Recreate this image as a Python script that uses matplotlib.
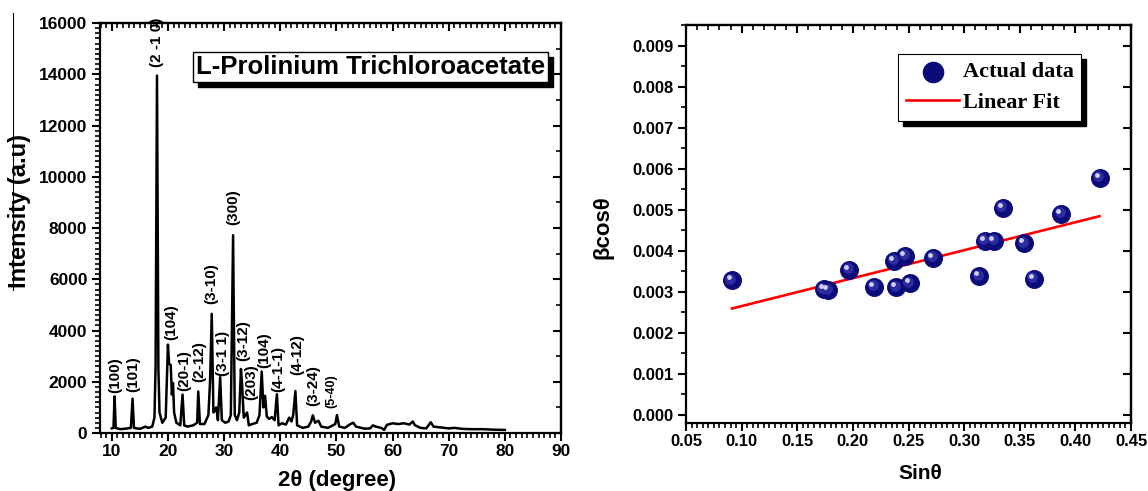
import matplotlib
matplotlib.use("Agg")
import matplotlib.pyplot as plt
from matplotlib.ticker import MultipleLocator
from matplotlib.transforms import offset_copy, IdentityTransform
from matplotlib.patches import Rectangle
from matplotlib.lines import Line2D

plt.rcParams['font.family'] = ['Liberation Sans', 'DejaVu Sans']
plt.rcParams['font.weight'] = 'bold'

# --- XRD pattern ---
two_theta = [10.0, 10.3, 10.5, 10.7, 11.5, 12.5, 13.4, 13.7, 13.95, 15.0, 16.0, 16.5,
             17.2, 17.6, 17.8, 18.05, 18.3, 18.5, 19.0, 19.6, 20.0, 20.2, 20.5, 20.7,
             20.9, 21.1, 21.5, 22.2, 22.6, 22.9, 23.5, 24.5, 25.2, 25.4, 25.7, 26.5,
             27.2, 27.5, 27.8, 28.1, 28.4, 28.6, 28.9, 29.3, 29.6, 30.2, 30.8, 31.2,
             31.6, 31.9, 32.3, 32.7, 33.0, 33.2, 33.5, 34.1, 34.4, 35.0, 35.8, 36.3,
             36.7, 37.0, 37.3, 37.6, 38.0, 38.5, 39.0, 39.4, 39.7, 40.3, 41.0, 41.6,
             42.0, 42.3, 42.7, 43.0, 44.0, 45.0, 45.5, 45.8, 46.2, 46.8, 47.3, 48.5,
             49.2, 49.8, 50.1, 50.5, 51.5, 52.5, 53.0, 53.5, 55.0, 56.0, 56.5, 57.0,
             58.0, 58.5, 59.0, 60.0, 61.0, 62.0, 63.0, 63.6, 64.0, 65.0, 66.0, 66.8,
             67.3, 68.5, 70.0, 71.0, 72.5, 74.0, 76.0, 78.0, 80.0]
intensity = [180, 200, 1430, 200, 150, 170, 200, 1340, 200, 160, 250, 200,
             250, 600, 2600, 13950, 2500, 800, 400, 600, 3450, 2700, 2650, 1500,
             1950, 800, 400, 300, 1500, 300, 250, 300, 400, 1620, 350, 350,
             700, 2000, 4650, 800, 900, 1000, 500, 2180, 500, 400, 450, 700,
             7720, 700, 500, 800, 2500, 1900, 600, 800, 300, 350, 400, 700,
             2400, 1000, 1450, 650, 550, 620, 500, 1510, 300, 380, 330, 600,
             450, 700, 1640, 300, 200, 250, 450, 690, 400, 480, 250, 200,
             280, 350, 700, 250, 200, 350, 400, 250, 170, 180, 300, 250,
             200, 120, 320, 380, 350, 380, 330, 450, 300, 200, 180, 420,
             250, 220, 180, 200, 160, 150, 150, 130, 120]

hkl_labels = ['(100)', '(101)', '(2 -1 0)', '(104)', '(20-1)', '(2-12)', '(3-10)',
              '(3-1 1)', '(300)', '(3-12)', '(203)', '(104)', '(4-1-1)', '(4-12)',
              '(3-24)', '(5-40)']
hkl_x = [10.66, 13.8, 18.1, 20.6, 22.9, 25.6, 27.8, 29.8, 31.6, 33.5, 34.9, 37.2,
         39.7, 42.96, 45.8, 49.1]
hkl_y = [2250, 2290, 15260, 4330, 2420, 2770, 5830, 3120, 8820, 3590, 1990, 3250,
         2510, 3070, 1860, 1640]

# --- Williamson-Hall data (right panel) ---
sin_theta = [0.0913, 0.174, 0.178, 0.1965, 0.219, 0.237, 0.247, 0.239, 0.251,
             0.272, 0.3136, 0.3185, 0.327, 0.3348, 0.354, 0.3624, 0.3875, 0.4217]
beta_cos = [0.00328, 0.00306, 0.00304, 0.00354, 0.00312, 0.00375, 0.00387, 0.00311,
            0.00320, 0.00383, 0.00338, 0.00424, 0.00424, 0.00504, 0.00418, 0.00332,
            0.00490, 0.00578]
fit_x = [0.0913, 0.4217]
fit_y = [0.00259, 0.00484]

fig = plt.figure(figsize=(11.48, 4.91), dpi=100)


def style_axes(ax, xmaj, xmin, ymaj, ymin, top_min, right_min, size):
    for s in ax.spines.values():
        s.set_linewidth(1.6)
    ax.xaxis.set_major_locator(MultipleLocator(xmaj))
    ax.xaxis.set_minor_locator(MultipleLocator(xmin))
    ax.yaxis.set_major_locator(MultipleLocator(ymaj))
    ax.yaxis.set_minor_locator(MultipleLocator(ymin))
    ax.tick_params(which='major', direction='out', length=6, width=1.5, labelsize=size)
    ax.tick_params(which='minor', direction='out', length=3.5, width=1.2)
    ax.tick_params(axis='x', pad=2)
    ax.tick_params(axis='y', pad=3)
    sx = ax.secondary_xaxis('top')
    sx.xaxis.set_major_locator(MultipleLocator(xmaj))
    sx.xaxis.set_minor_locator(MultipleLocator(top_min))
    sx.tick_params(which='major', direction='in', length=6, width=1.5, labeltop=False)
    sx.tick_params(which='minor', direction='in', length=3.5, width=1.2)
    sx.spines['top'].set_linewidth(1.6)
    sy = ax.secondary_yaxis('right')
    sy.yaxis.set_major_locator(MultipleLocator(ymaj))
    sy.yaxis.set_minor_locator(MultipleLocator(right_min))
    sy.tick_params(which='major', direction='in', length=6, width=1.5, labelright=False)
    sy.tick_params(which='minor', direction='in', length=3.5, width=1.2)
    sy.spines['right'].set_linewidth(1.6)
    for lab in ax.get_xticklabels() + ax.get_yticklabels():
        lab.set_fontweight('bold')


# ---------------- left panel ----------------
ax1 = fig.add_axes([0.0871, 0.1181, 0.4016, 0.835])
ax1.plot(two_theta, intensity, color='black', lw=1.8)
ax1.set_xlim(7.9, 90)
ax1.set_ylim(0, 16000)
style_axes(ax1, 10, 1, 2000, 200, 1, 1000, 12.5)

for lab, x, y in zip(hkl_labels, hkl_x, hkl_y):
    fs = 9 if lab == '(5-40)' else 11
    ax1.text(x, y, lab, rotation=90, ha='center', va='center', fontsize=fs,
             fontweight='bold', clip_on=False, zorder=4)

ax1.set_xlabel('2θ (degree)', fontsize=16, fontweight='bold')
ax1.xaxis.set_label_coords(0.514, -0.115)
ax1.xaxis.label.set_va('center')
ax1.set_ylabel('Intensity (a.u)', fontsize=17, fontweight='bold')
ax1.yaxis.set_label_coords(-0.174, 0.541)
ax1.yaxis.label.set_va('center')

title = ax1.text(0.586, 0.893, 'L-Prolinium Trichloroacetate', transform=ax1.transAxes,
                 ha='center', va='center', fontsize=18.5, fontweight='bold', zorder=6,
                 bbox=dict(boxstyle='square,pad=0.12', fc='white', ec='black', lw=1.0))

# ---------------- right panel ----------------
ax2 = fig.add_axes([0.5976, 0.1385, 0.3876, 0.8106])
ax2.set_xlim(0.05, 0.45)
ax2.set_ylim(-0.0002, 0.0095)
style_axes(ax2, 0.05, 0.005, 0.001, 0.0005, 0.01, 0.001, 12)
ax2.yaxis.set_major_formatter(plt.FormatStrFormatter('%.3f'))
ax2.xaxis.set_major_formatter(plt.FormatStrFormatter('%.2f'))

ax2.plot(fit_x, fit_y, color='red', lw=1.9, zorder=2, label='Linear Fit')
ax2.scatter(sin_theta, beta_cos, s=160, color='#0b0b7a', zorder=3, label='Actual data')
mid = offset_copy(ax2.transData, fig=fig, x=-1.5, y=1.5, units='dots')
ax2.scatter(sin_theta, beta_cos, s=60, color='#2c2ca0', transform=mid, zorder=3.1, lw=0)
hi = offset_copy(ax2.transData, fig=fig, x=-3.0, y=3.0, units='dots')
ax2.scatter(sin_theta, beta_cos, s=12, color='#d0d0f2', transform=hi, zorder=3.2, lw=0)

ax2.set_xlabel('Sinθ', fontsize=15, fontweight='bold')
ax2.xaxis.set_label_coords(0.526, -0.128)
ax2.xaxis.label.set_va('center')
ax2.set_ylabel('βcosθ', fontsize=16, fontweight='bold')
ax2.yaxis.set_label_coords(-0.187, 0.492)
ax2.yaxis.label.set_va('center')

handles, labels = ax2.get_legend_handles_labels()
leg = ax2.legend(handles[::-1], labels[::-1], loc='upper right',
                 bbox_to_anchor=(0.888, 0.927), borderaxespad=0, fancybox=False,
                 edgecolor='black', framealpha=1, markerscale=1.15,
                 prop={'family': 'Liberation Serif', 'weight': 'bold', 'size': 16},
                 handlelength=2.4, handletextpad=0.15, borderpad=0.35, labelspacing=0.45)
leg.get_frame().set_linewidth(0.8)
leg.set_zorder(6)

# thin stray line at top-left of the original figure
fig.add_artist(Line2D([13 / 1148, 13 / 1148], [1 - 13 / 491, 1 - 290 / 491],
                      color='black', lw=0.8))

# black drop shadows under the title box and the legend
fig.canvas.draw()
renderer = fig.canvas.get_renderer()
for ax, ext, z in [(ax1, title.get_bbox_patch().get_window_extent(renderer), 5.5),
                   (ax2, leg.get_frame().get_window_extent(renderer), 5.5)]:
    shadow = Rectangle((ext.x0 + 5, ext.y0 - 5), ext.width, ext.height,
                       transform=IdentityTransform(), color='black', zorder=z)
    shadow.set_clip_on(False)
    ax.add_artist(shadow)

fig.savefig('out.png', dpi=100)
